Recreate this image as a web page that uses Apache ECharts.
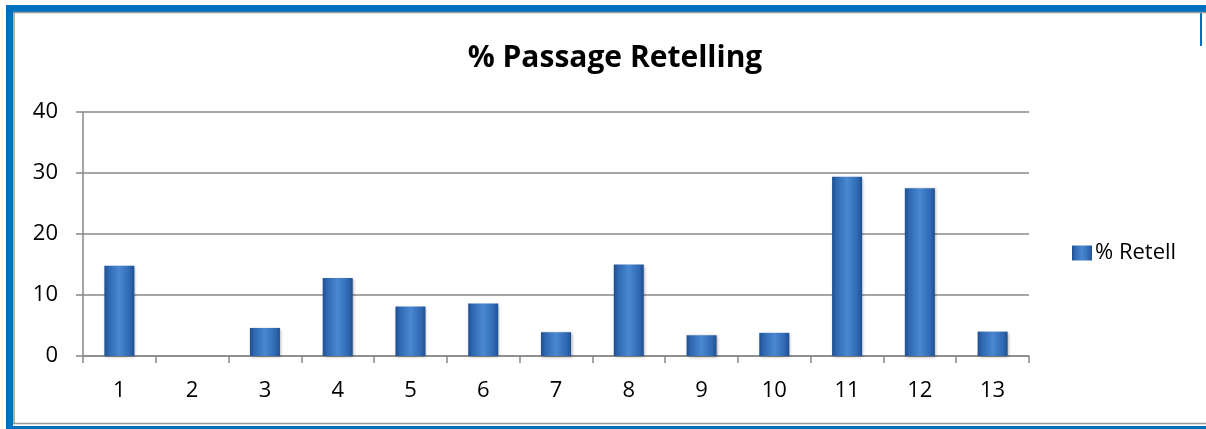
<!DOCTYPE html>
<html><head><meta charset="utf-8">
<script src="https://cdn.jsdelivr.net/npm/echarts@6/dist/echarts.min.js"></script>
<style>html,body{margin:0;padding:0;background:#fff}#c{width:1206px;height:429px}</style>
</head><body><div id="c"></div>
<script>
const categories = ['1','2','3','4','5','6','7','8','9','10','11','12','13'];
const retell = [14.8, 0, 4.6, 12.8, 8.1, 8.6, 3.9, 15.0, 3.4, 3.8, 29.4, 27.5, 4.0];
const yTicks = {min: 0, max: 40, interval: 10};
const seriesName = '% Retell';
const titleText = '% Passage Retelling';

const chart = echarts.init(document.getElementById('c'));
const barGrad = new echarts.graphic.LinearGradient(0,0,1,0,[
  {offset:0, color:'#1f4f8f'},
  {offset:0.15, color:'#3068b2'},
  {offset:0.5, color:'#4a88d2'},
  {offset:0.85, color:'#3068b2'},
  {offset:1, color:'#1f4f8f'}
]);
const font = '"Open Sans", "DejaVu Sans", sans-serif';
chart.setOption({
  backgroundColor:'#fff',
  animation:false,
  title:{text:titleText, left:610, top:38, textAlign:'center',
    textStyle:{fontFamily:font, fontWeight:'bold', fontSize:30, color:'#000'}},
  legend:{data:[{name:seriesName, icon:'rect'}], left:1072, top:242, padding:0, itemWidth:20, itemHeight:15, itemGap:3,
    textStyle:{fontFamily:font, fontSize:22, color:'#000', padding:[0,0,0,-2]}},
  grid:{left:83, right:177, top:112, bottom:73},
  xAxis:{type:'category', data:categories, boundaryGap:true,
    axisLine:{lineStyle:{color:'#888', width:1.5}},
    axisTick:{show:true, length:7, alignWithLabel:false, lineStyle:{color:'#888', width:1.5}},
    axisLabel:{fontFamily:font, fontSize:22, color:'#000', margin:24}},
  yAxis:{type:'value', min:yTicks.min, max:yTicks.max, interval:yTicks.interval,
    axisLine:{show:true, lineStyle:{color:'#888', width:1.5}},
    axisTick:{show:true, length:7, lineStyle:{color:'#888', width:1.5}},
    splitLine:{lineStyle:{color:'#888', width:1.5}},
    axisLabel:{fontFamily:font, fontSize:22, color:'#000', margin:25}},
  series:[{name:seriesName, type:'bar', data:retell, barWidth:30,
    itemStyle:{color:barGrad, borderWidth:0,
      shadowColor:'rgba(0,0,0,0.35)', shadowBlur:3, shadowOffsetX:1, shadowOffsetY:1}}],
  graphic:[
    {type:'rect', shape:{x:6,y:5,width:1200,height:7}, style:{fill:'#0070c0'}, z:100},
    {type:'rect', shape:{x:6,y:5,width:7,height:424}, style:{fill:'#0070c0'}, z:100},
    {type:'rect', shape:{x:13,y:426,width:1193,height:3}, style:{fill:'#0070c0'}, z:100},
    {type:'rect', shape:{x:1200,y:12,width:2,height:34}, style:{fill:'#0070c0'}, z:100},
    {type:'line', shape:{x1:13,y1:12.5,x2:1206,y2:12.5}, style:{stroke:'#999', lineWidth:1.5}, z:100},
    {type:'line', shape:{x1:14,y1:12,x2:14,y2:424}, style:{stroke:'#999', lineWidth:1.5}, z:100},
    {type:'line', shape:{x1:13,y1:423.5,x2:1206,y2:423.5}, style:{stroke:'#999', lineWidth:1.5}, z:100}
  ]
});
</script></body></html>
